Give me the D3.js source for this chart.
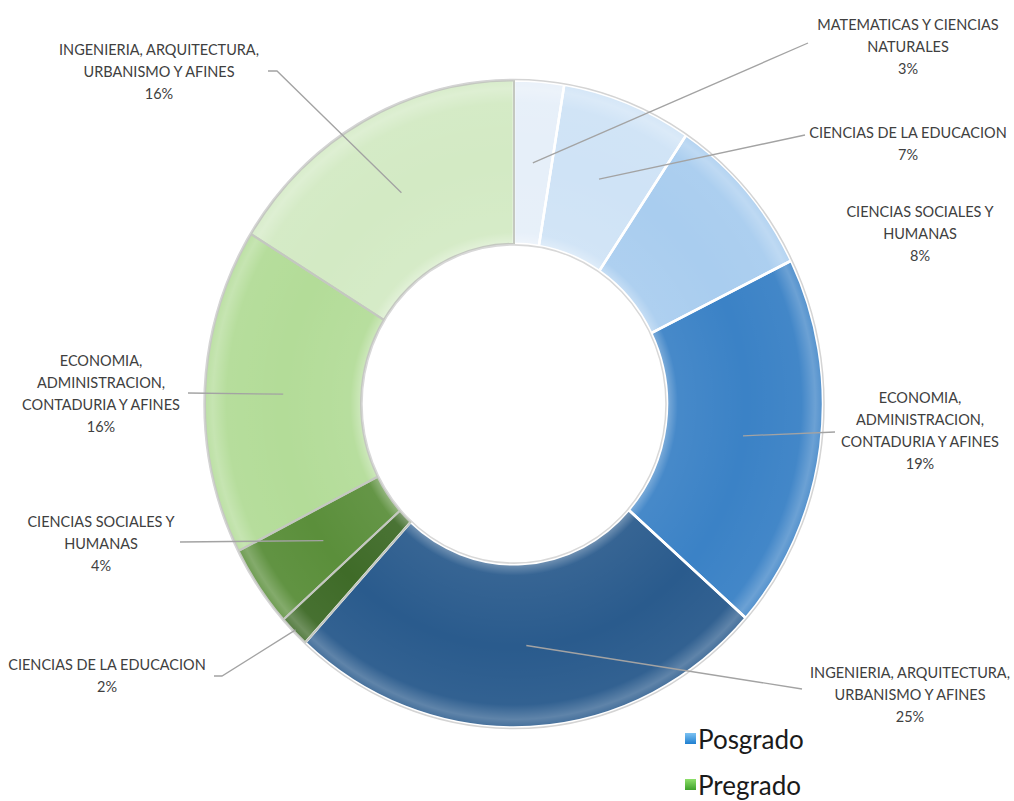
<!DOCTYPE html>
<html>
<head>
<meta charset="utf-8">
<script src="https://cdn.jsdelivr.net/npm/d3@7"></script>
<style>
  body { margin: 0; background: #fff; }
  svg { display: block; }
</style>
</head>
<body>
<svg width="1014" height="801"></svg>
<script>
// datos
const niveles = ['Posgrado', 'Posgrado', 'Posgrado', 'Posgrado', 'Posgrado',
                 'Pregrado', 'Pregrado', 'Pregrado', 'Pregrado'];
const areas = [
    ['MATEMATICAS Y CIENCIAS', 'NATURALES'],
    ['CIENCIAS DE LA EDUCACION'],
    ['CIENCIAS SOCIALES Y', 'HUMANAS'],
    ['ECONOMIA,', 'ADMINISTRACION,', 'CONTADURIA Y AFINES'],
    ['INGENIERIA, ARQUITECTURA,', 'URBANISMO Y AFINES'],
    ['CIENCIAS DE LA EDUCACION'],
    ['CIENCIAS SOCIALES Y', 'HUMANAS'],
    ['ECONOMIA,', 'ADMINISTRACION,', 'CONTADURIA Y AFINES'],
    ['INGENIERIA, ARQUITECTURA,', 'URBANISMO Y AFINES']
];
const porcentajes = [2.6, 6.8, 8.3, 18.8, 25.3, 1.6, 4.1, 16.3, 16.2];
const colores = ['#e6eff9', '#cfe3f6', '#a9cdef', '#3b82c6', '#2a5b8d',
                 '#3f6b28', '#5b8f3b', '#b3dc98', '#d3eac4'];
const leyenda = ['Posgrado', 'Pregrado'];

// posicion de etiquetas: x centro, y primera linea, fin de la guia
const posEtiquetas = [
    { x: 908, y: 25, fin: [[808, 43]] },
    { x: 908, y: 133, fin: [[805, 135]] },
    { x: 920, y: 212, fin: null },
    { x: 920, y: 398, fin: [[835, 432]] },
    { x: 910, y: 673, fin: [[802, 689]] },
    { x: 107, y: 665, fin: [[222, 676], [214, 676]], borde: true },
    { x: 101, y: 522, fin: [[180, 542]] },
    { x: 101, y: 361, fin: [[188, 393]] },
    { x: 159, y: 50, fin: [[277, 71], [268, 71]] }
];

const svg = d3.select('svg');
const cx = 514, cy = 404, sy = 1.047;
const rOut = 309, rIn = 153;

const datos = porcentajes.map((v, i) => ({ nivel: niveles[i], lineas: areas[i], valor: v, color: colores[i], i: i }));

const pie = d3.pie().sort(null).value(d => d.valor);
const arcos = pie(datos);
const arc = d3.arc().innerRadius(rIn).outerRadius(rOut);

const defs = svg.append('defs');
const grad = defs.append('radialGradient')
    .attr('id', 'bisel')
    .attr('gradientUnits', 'userSpaceOnUse')
    .attr('cx', 0).attr('cy', 0).attr('r', rOut);
[[rIn / rOut, 0.35], [rIn / rOut + 0.035, 0.06], [0.75, 0], [0.93, 0.04], [0.975, 0.25], [1, 0.12]]
    .forEach(([o, a]) => grad.append('stop').attr('offset', o).attr('stop-color', '#fff').attr('stop-opacity', a));

const gDona = svg.append('g')
    .attr('transform', `translate(${cx},${cy}) scale(1,${sy})`);

gDona.selectAll('path.slice')
    .data(arcos)
    .join('path')
    .attr('class', 'slice')
    .attr('d', arc)
    .attr('fill', d => d.data.color);

gDona.selectAll('path.brillo')
    .data(arcos)
    .join('path')
    .attr('class', 'brillo')
    .attr('d', arc)
    .attr('fill', 'url(#bisel)');

// separadores
gDona.selectAll('path.borde')
    .data(arcos)
    .join('path')
    .attr('class', 'borde')
    .attr('d', arc)
    .attr('fill', 'none')
    .attr('stroke', d => d.data.nivel === 'Posgrado' ? '#ffffff' : '#c4c8c0')
    .attr('stroke-width', d => d.data.nivel === 'Posgrado' ? 2.5 : 2)
    .attr('stroke-linejoin', 'round');

gDona.append('circle').attr('r', rOut + 1).attr('fill', 'none').attr('stroke', '#d4d4d4').attr('stroke-width', 1.5);
gDona.append('circle').attr('r', rIn - 1).attr('fill', 'none').attr('stroke', '#d8d8d8').attr('stroke-width', 1.5);

// guias
const punto = (a, r) => [cx + r * Math.sin(a), cy - r * Math.cos(a) * sy];

const gGuias = svg.append('g');
arcos.forEach((a, i) => {
    const p = posEtiquetas[i];
    if (!p.fin) return;
    const mid = (a.startAngle + a.endAngle) / 2;
    const r = p.borde ? rOut - 2 : (rIn + rOut) / 2;
    const pts = [punto(mid, r)].concat(p.fin);
    gGuias.append('path')
        .attr('d', d3.line()(pts))
        .attr('fill', 'none')
        .attr('stroke', '#a3a3a3')
        .attr('stroke-width', 1.3);
});

// etiquetas
const fmt = v => Math.round(v) + '%';
const gEtiq = svg.append('g')
    .attr('font-family', 'Lato, "Open Sans", sans-serif')
    .attr('font-size', '14.5px')
    .attr('fill', '#404040')
    .attr('text-anchor', 'middle');

arcos.forEach((a, i) => {
    const p = posEtiquetas[i];
    const lineas = a.data.lineas.concat([fmt(a.data.valor)]);
    const t = gEtiq.append('text')
        .attr('transform', `translate(${p.x},${p.y}) scale(1,1.05)`);
    lineas.forEach((l, j) => {
        t.append('tspan')
            .attr('x', 0)
            .attr('y', j * 20.8)
            .attr('dy', '0.35em')
            .text(l);
    });
});

// leyenda
const colLeyenda = [['#7cc2f2', '#1f7fd0'], ['#8ee06a', '#3ea12a']];
colLeyenda.forEach((c, i) => {
    const g = defs.append('linearGradient').attr('id', 'ley' + i)
        .attr('x1', 0).attr('y1', 0).attr('x2', 0).attr('y2', 1);
    g.append('stop').attr('offset', 0).attr('stop-color', c[0]);
    g.append('stop').attr('offset', 1).attr('stop-color', c[1]);
});

const gLey = svg.append('g').attr('transform', 'translate(685,733)');
leyenda.forEach((n, i) => {
    const item = gLey.append('g').attr('transform', `translate(0,${i * 46})`);
    item.append('rect')
        .attr('width', 11).attr('height', 11)
        .attr('fill', `url(#ley${i})`);
    item.append('text')
        .attr('x', 13)
        .attr('y', 16)
        .attr('font-family', 'Lato, "Open Sans", sans-serif')
        .attr('font-size', '26px')
        .attr('fill', '#1a1a1a')
        .text(n);
});
</script>
</body>
</html>
